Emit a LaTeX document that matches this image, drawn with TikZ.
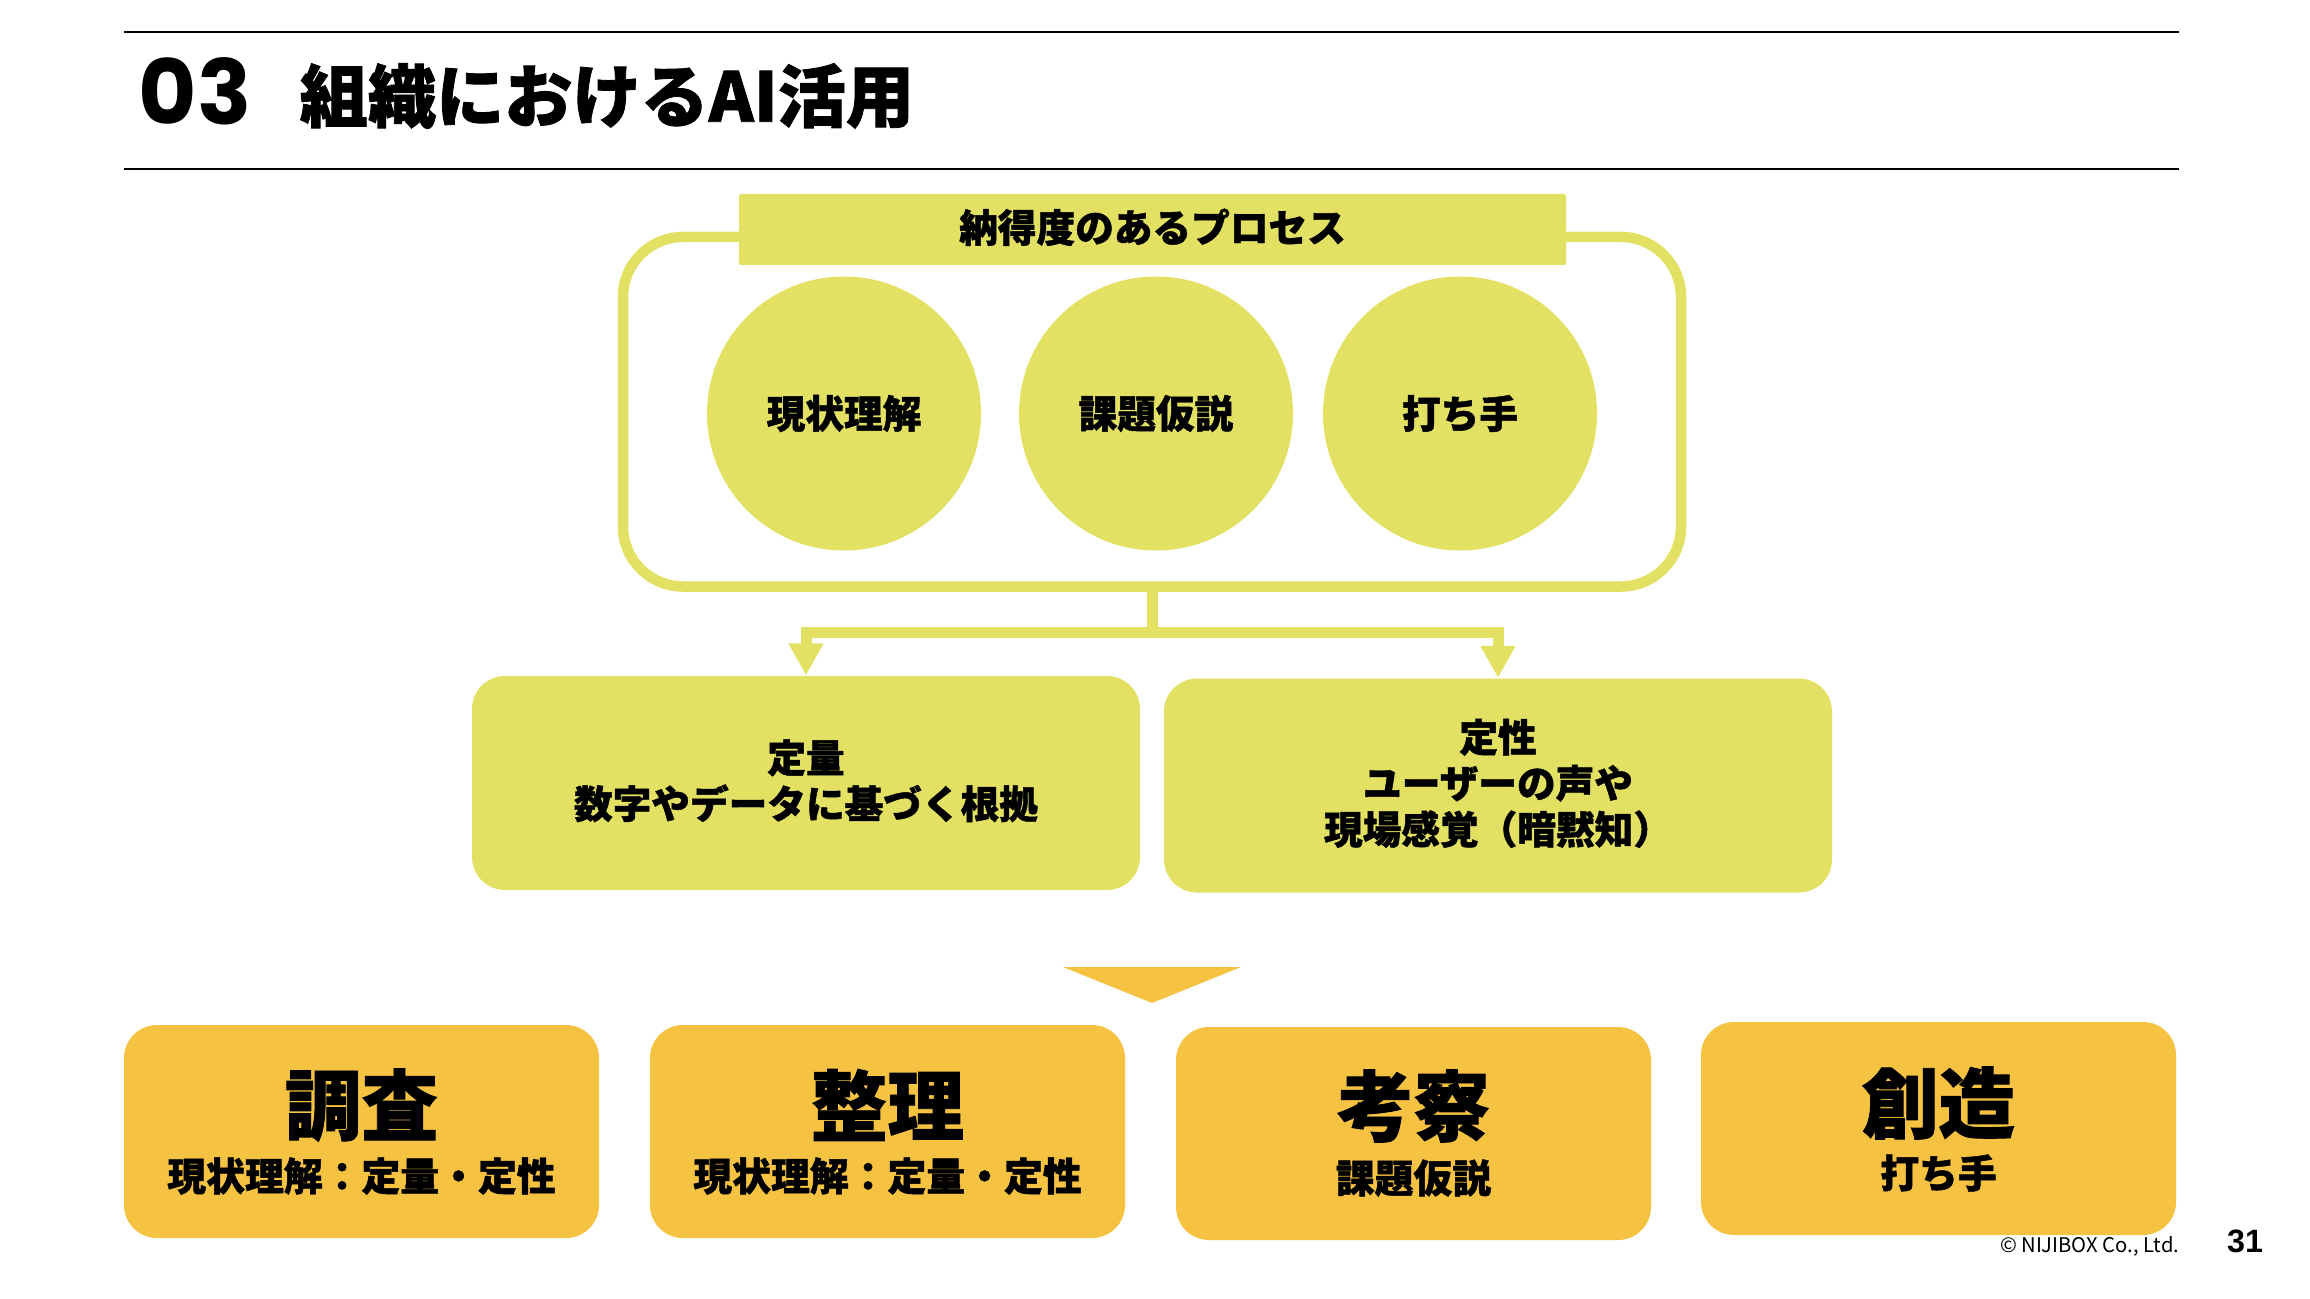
\documentclass[tikz,border=0pt]{standalone}
\usepackage{fontspec}
\usepackage{xcolor}
\setmainfont{Noto Sans CJK JP}[BoldFeatures={FakeBold=1.2}]
\newfontfamily\numfont{Poppins}
\newfontfamily\pagefont{Liberation Sans}
\usetikzlibrary{arrows.meta}
\definecolor{procyellow}{HTML}{E3E163}
\definecolor{steporange}{HTML}{F5C242}
\tikzset{
	rule/.style={line width=0.028cm,black},
	circ/.style={circle,fill=procyellow,minimum size=2.74cm,inner sep=0pt,font=\fontsize{11}{13}\selectfont\bfseries},
	kind/.style={rectangle,rounded corners=0.33cm,fill=procyellow,minimum width=6.68cm,minimum height=2.14cm,inner sep=0pt},
	kindtext/.style={align=center,inner sep=0pt,font=\fontsize{11}{13.1}\selectfont\bfseries},
	stepbox/.style={rectangle,rounded corners=0.33cm,fill=steporange,minimum width=4.75cm,minimum height=2.13cm,inner sep=0pt},
	head/.style={inner sep=0pt,font=\fontsize{21.8}{24}\selectfont\bfseries},
	sub/.style={inner sep=0pt,font=\fontsize{11.05}{13}\selectfont\bfseries},
	flow/.style={-{Triangle[width=0.33cm,length=0.32cm]},line width=0.11cm,procyellow}
}

\begin{document}
\begin{tikzpicture}
\useasboundingbox (0,0) rectangle (23.1,12.98);

\coordinate (r1a) at (1.24,12.66);
\coordinate (r1b) at (21.79,12.66);
\coordinate (r2a) at (1.24,11.29);
\coordinate (r2b) at (21.79,11.29);
\draw [rule] (r1a) -- (r1b);
\draw [rule] (r2a) -- (r2b);

\node[inner sep=0pt, anchor=center, font=\fontsize{25.5}{30}\selectfont\numfont\bfseries] (num) at (1.95,12.07) {03};
\node[inner sep=0pt, anchor=west, font=\fontsize{19.4}{22}\selectfont\bfseries] (title) at (2.99,12.02) {組織におけるAI活用};

\node[draw=procyellow, line width=0.105cm, rounded corners=0.6cm, minimum width=10.58cm, minimum height=3.495cm, outer sep=0pt] (frame) at (11.52,8.8625) {};
\node[rectangle, fill=procyellow, rounded corners=0.02cm, minimum width=8.27cm, minimum height=0.71cm, inner sep=0pt] (bar) at (11.525,10.685) {};
\node[inner sep=0pt, yshift=0.022cm, font=\fontsize{11}{13}\selectfont\bfseries] (bartext) at (bar) {納得度のあるプロセス};

\node[circ] (now) at (8.44,8.845) {現状理解};
\node[circ, right of=now, xshift=2.12cm] (hypo) {課題仮説};
\node[circ, right of=hypo, xshift=2.04cm] (act) {打ち手};

\node[kind] (quant) at (8.06,5.15) {};
\node[kind, right of=quant, xshift=5.92cm, yshift=-0.025cm] (qual) {};
\node[kindtext, yshift=0.022cm] (quanttext) at (quant) {定量\\数字やデータに基づく根拠};
\node[kindtext, yshift=0.022cm] (qualtext) at (qual) {定性\\ユーザーの声や\\現場感覚（暗黙知）};

\coordinate (branch) at (11.52,6.655);
\draw [flow] (frame.south) -- (branch) -| (quant.north);
\draw [flow] (frame.south) -- (branch) -| (qual.north);

\fill [steporange] (10.63,3.31) -- (12.41,3.31) -- (11.52,2.95) -- cycle;

\node[stepbox] (box1) at (3.615,1.665) {};
\node[stepbox, right of=box1, xshift=4.26cm] (box2) {};
\node[stepbox, right of=box2, xshift=4.26cm, yshift=-0.02cm] (box3) {};
\node[stepbox, right of=box3, xshift=4.25cm, yshift=0.05cm] (box4) {};

\node[head, yshift=0.265cm] (h1) at (box1) {調査};
\node[head, yshift=0.265cm] (h2) at (box2) {整理};
\node[head, yshift=0.275cm] (h3) at (box3) {考察};
\node[head, yshift=0.255cm] (h4) at (box4) {創造};

\node[sub, yshift=-0.445cm] (s1) at (box1) {現状理解：定量・定性};
\node[sub, yshift=-0.445cm] (s2) at (box2) {現状理解：定量・定性};
\node[sub, yshift=-0.445cm] (s3) at (box3) {課題仮説};
\node[sub, yshift=-0.445cm] (s4) at (box4) {打ち手};

\node[inner sep=0pt, anchor=east, font=\fontsize{5.75}{7}\selectfont] (copy) at (21.8,0.52) {© NIJIBOX Co., Ltd.};
\node[inner sep=0pt, anchor=center, font=\fontsize{9.2}{11}\selectfont\pagefont\bfseries] (page) at (22.45,0.57) {31};
\end{tikzpicture}
\end{document}
